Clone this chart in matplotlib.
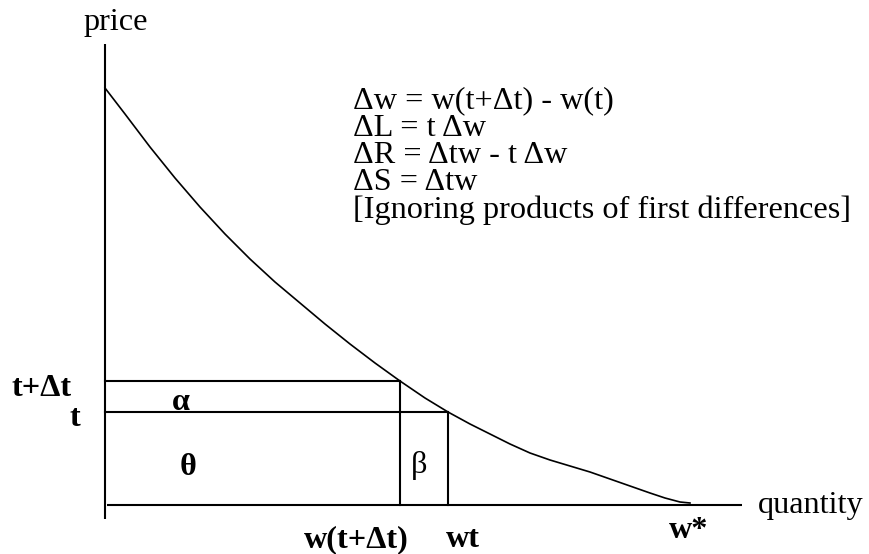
import numpy as np
import matplotlib
matplotlib.use("Agg")
import matplotlib.pyplot as plt

# SECTION Data (diagram units: origin where the axes cross)

curve_q = [0, 20, 45, 70, 95, 120, 145, 170, 195, 220, 245, 270, 295,
           320, 343, 365, 385, 405, 425, 445, 465, 485, 505, 525, 545,
           560, 575, 585]
curve_p = [417, 391, 358, 327, 298, 271, 246, 223, 202, 181, 161, 142, 124,
           107, 93, 81, 71, 61, 52, 45, 39, 33, 26, 19, 12,
           7, 3, 2]

t_plus_dt = 124
t_val = 93
w_tdt = 295
w_t = 343
w_star = 585

formula_lines = [
    "\u0394w = w(t+\u0394t) - w(t)",
    "\u0394L = t \u0394w",
    "\u0394R = \u0394tw - t \u0394w",
    "\u0394S = \u0394tw",
    "[Ignoring products of first differences]",
]

# SECTION Plot

plt.rcParams['font.family'] = ['Liberation Serif', 'DejaVu Serif']
fs = 23.2

fig = plt.figure(figsize=(8.69, 5.54), dpi=100)
ax = fig.add_axes([0, 0, 1, 1])
ax.set_xlim(-105, 764)
ax.set_ylim(-49, 505)
ax.axis("off")

# axes
ax.plot([0, 0], [-14, 461], color="black", lw=1.5, solid_capstyle="butt")
ax.plot([2, 637], [0, 0], color="black", lw=1.5, solid_capstyle="butt")

# demand curve
ax.plot(curve_q, curve_p, color="black", lw=1.2)

# rectangles
ax.plot([0, w_tdt], [t_plus_dt, t_plus_dt], color="black", lw=1.5)
ax.plot([0, w_t], [t_val, t_val], color="black", lw=1.5)
ax.plot([w_tdt, w_tdt], [0, t_plus_dt], color="black", lw=1.5)
ax.plot([w_t, w_t], [0, t_val], color="black", lw=1.5)

# axis labels
ax.text(11, 475, "price", fontsize=fs, ha="center", va="baseline")
ax.text(653, -8, "quantity", fontsize=fs, ha="left", va="baseline")

# tick-style labels
ax.text(-33, 109, "t+\u0394t", fontsize=fs, ha="right", va="baseline", fontweight="bold")
ax.text(-25, 79, "t", fontsize=fs, ha="right", va="baseline", fontweight="bold")
ax.text(251, -42, "w(t+\u0394t)", fontsize=fs, ha="center", va="baseline", fontweight="bold")
ax.text(358, -42, "wt", fontsize=fs, ha="center", va="baseline", fontweight="bold")
ax.text(584, -33, "w*", fontsize=fs, ha="center", va="baseline", fontweight="bold")

# area labels
ax.text(76, 95, "\u03b1", fontsize=fs, ha="center", va="baseline", fontweight="bold")
ax.text(83, 30, "\u03b8", fontsize=fs, ha="center", va="baseline", fontweight="bold")
ax.text(314, 32, "\u03b2", fontsize=fs, ha="center", va="baseline")

# formulas
for i, line in enumerate(formula_lines):
    ax.text(248, 397 - 27.5 * i, line, fontsize=fs, ha="left", va="baseline")

fig.savefig("out.png", dpi=100)
